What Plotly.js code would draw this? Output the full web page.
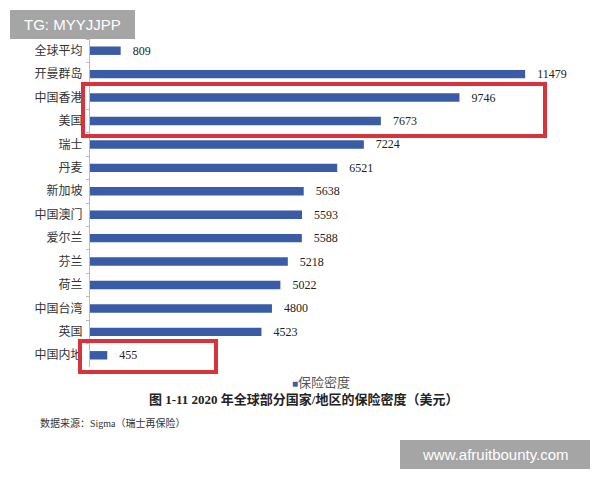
<!DOCTYPE html>
<html><head><meta charset="utf-8">
<script src="https://cdn.plot.ly/plotly-3.0.1.min.js"></script>
<style>html,body{margin:0;padding:0;background:#fff}#c{width:600px;height:480px}</style>
</head><body><div id="c"></div>
<script>
var regions = ["全球平均","开曼群岛","中国香港","美国","瑞士","丹麦","新加坡","中国澳门","爱尔兰","芬兰","荷兰","中国台湾","英国","中国内地"];
var density = [809,11479,9746,7673,7224,6521,5638,5593,5588,5218,5022,4800,4523,455];
var seriesName = "保险密度";
var caption = "图 1-11 2020 年全球部分国家/地区的保险密度（美元）";
var source = "数据来源：Sigma（瑞士再保险）";

var W=600,H=480, L=90, R=565, T=39, B=367;
function px(x){return (x-L)/(R-L);}
function py(y){return (B-y)/(B-T);}
var serif = "Liberation Serif, Noto Sans CJK SC, serif";

var trace = {
  type:"bar", orientation:"h", y:regions, x:density, name:seriesName,
  marker:{color:"#3a5ba6"}, width:0.36,
  texttemplate:"   %{x:d}", textposition:"outside", cliponaxis:false, constraintext:"none",
  textfont:{family:serif,size:12,color:"#222"}
};
var layout = {
  width:W,height:H, margin:{l:L,r:W-R,t:T,b:H-B},
  paper_bgcolor:"#fff", plot_bgcolor:"#fff",
  font:{family:serif,color:"#333"},
  xaxis:{range:[0,12530],visible:false,fixedrange:true},
  yaxis:{type:"category",autorange:"reversed",showline:true,linecolor:"#bbb",linewidth:1,
    ticks:"outside",tickson:"boundaries",ticklen:3,tickcolor:"#bbb",
    tickfont:{family:serif,size:12,color:"#333"},ticklabelstandoff:4,showgrid:false},
  showlegend:false,
  shapes:[
    {type:"rect",xref:"paper",yref:"paper",x0:px(83),x1:px(545),y0:py(136),y1:py(84),line:{color:"#d8323b",width:4}},
    {type:"rect",xref:"paper",yref:"paper",x0:px(80),x1:px(216),y0:py(372),y1:py(341),line:{color:"#d8323b",width:4}},
    {type:"rect",xref:"paper",yref:"paper",x0:px(10),x1:px(135),y0:py(39),y1:py(10),fillcolor:"#a5a5a5",line:{width:0}},
    {type:"rect",xref:"paper",yref:"paper",x0:px(400),x1:px(590),y0:py(469),y1:py(440),fillcolor:"#a5a5a5",line:{width:0}}
  ],
  annotations:[
    {text:'<span style="color:#3a5ba6;font-size:10px">■</span>'+seriesName,xref:"paper",yref:"paper",x:px(321),y:py(382),xanchor:"center",yanchor:"middle",showarrow:false,
     font:{family:serif,size:13,color:"#555"}},
    {text:caption,xref:"paper",yref:"paper",x:px(303),y:py(399),xanchor:"center",yanchor:"middle",showarrow:false,
     font:{family:serif,size:13,color:"#222",weight:"bold"}},
    {text:source,xref:"paper",yref:"paper",x:px(38),y:py(423),xanchor:"left",yanchor:"middle",showarrow:false,
     font:{family:serif,size:10,color:"#333"}},
    {text:"TG: MYYJJPP",xref:"paper",yref:"paper",x:px(72.5),y:py(24.5),xanchor:"center",yanchor:"middle",showarrow:false,
     font:{family:"Liberation Sans, Arial, sans-serif",size:15,color:"#fff"}},
    {text:"www.afruitbounty.com",xref:"paper",yref:"paper",x:px(495),y:py(454.5),xanchor:"center",yanchor:"middle",showarrow:false,
     font:{family:"Liberation Sans, Arial, sans-serif",size:15,color:"#fff"}}
  ]
};
Plotly.newPlot("c",[trace],layout,{displayModeBar:false,staticPlot:true});
</script></body></html>
